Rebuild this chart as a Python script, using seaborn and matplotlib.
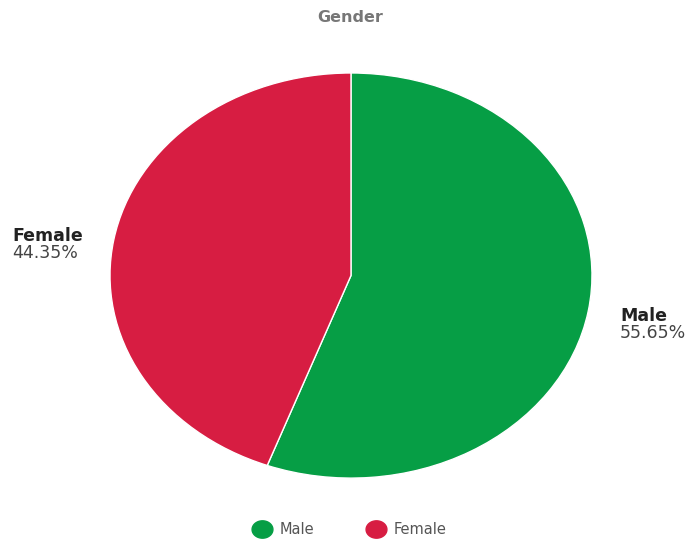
import matplotlib
matplotlib.use("Agg")
import numpy as np
import matplotlib.pyplot as plt
from matplotlib.lines import Line2D
from matplotlib.path import Path
import seaborn as sns

categories = ["Male", "Female"]
shares = [55.65, 44.35]
colors = ["#069E45", "#D71D42"]

sns.set_theme(style="white")
plt.rcParams["font.family"] = ["DejaVu Sans"]

fig = plt.figure(figsize=(6.94, 5.39), dpi=100)
ax = fig.add_axes([0.1585, 0.113, 0.6945, 0.7516])
ax.pie(shares, colors=colors, startangle=90, counterclock=False,
       wedgeprops=dict(edgecolor="white", linewidth=1))
ax.set_aspect("auto")
ax.set_xlim(-1, 1)
ax.set_ylim(-1, 1)
ax.axis("off")

fig.text(0.505, 1 - 18 / 539, "Gender", ha="center", va="center",
         fontsize=11.5, fontweight="bold", color="#777777")

# slice labels beside the pie
label_pos = {"Male": (620 / 694, 1 - 316 / 539), "Female": (12 / 694, 1 - 236 / 539)}
for cat, val in zip(categories, shares):
    x, y = label_pos[cat]
    fig.text(x, y, cat, ha="left", va="center", fontsize=12.5,
             fontweight="bold", color="#222222")
    fig.text(x, y - 17.5 / 539, f"{val:.2f}%", ha="left", va="center",
             fontsize=12.5, color="#444444")

# slightly wide oval legend marker
t = np.linspace(0, 2 * np.pi, 60)
oval = Path(np.column_stack([1.2 * np.cos(t), np.sin(t)]), closed=True)
handles = [Line2D([0], [0], marker=oval, linestyle="", markersize=15,
                  markerfacecolor=c, markeredgecolor=c) for c in colors]
fig.legend(handles, categories, loc="center", bbox_to_anchor=(0.504, 1 - 530 / 539),
           ncol=2, frameon=False, fontsize=10.5, handletextpad=0.6,
           columnspacing=3.6, labelcolor="#555555", handlelength=1.2)

fig.savefig("out.png", dpi=100)
